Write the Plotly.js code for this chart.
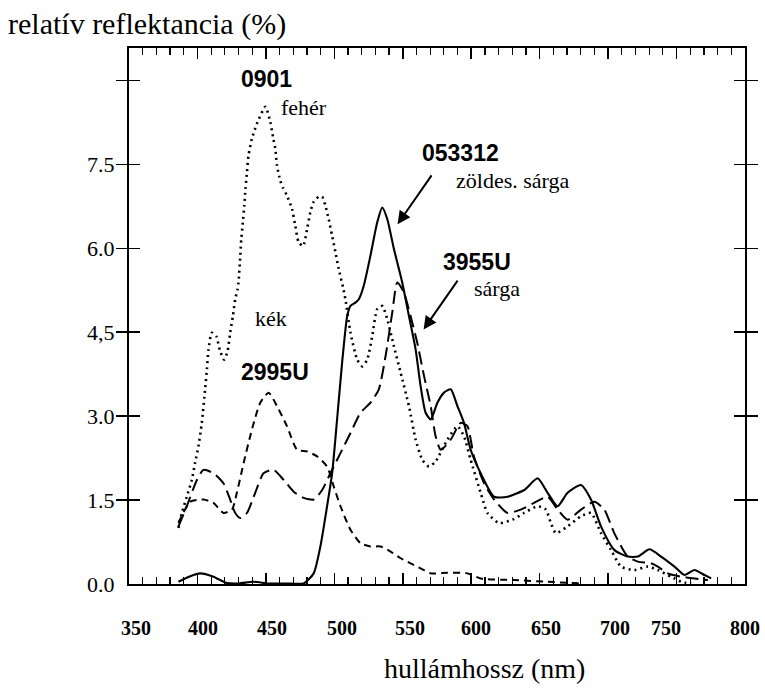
<!DOCTYPE html>
<html><head><meta charset="utf-8">
<script src="https://cdn.plot.ly/plotly-3.0.1.min.js"></script>
<style>html,body{margin:0;padding:0;background:#fff}#chart{width:765px;height:693px}</style>
</head><body><div id="chart"></div>
<script>
// 0901 – fehér (dotted)
const nm0901 = [386.1,388.6,392.2,395.9,398.3,400.7,403.2,405.6,406.9,408.1,410.5,413.7,416.6,419.5,422,423.9,425.9,427.6,429.3,430,431.3,432,433.2,434.2,435.1,436.2,437.3,439.8,443.5,449.6,453.2,455.4,456.9,458.1,460.5,462.5,465.4,469.1,471.5,473.9,477.2,480.1,482.5,484.9,488.6,491.1,493.5,495.9,498.4,500.8,503.2,506.4,508.1,511.8,516.7,520.4,524,527.7,531.3,535,538.7,543.5,548.4,554.5,559.4,564.3,569.1,574,582.6,589.9,594.7,599.6,606.9,611.9,620.4,630.2,638.7,648.5,654.5,658.2,661.9,670.4,680.2,687.5,694.8,702.1,709.4,719.2,729,736.3,746,753.4,760.7];
const val0901 = [1.00,1.27,1.56,1.86,2.17,2.46,2.88,3.48,3.84,4.19,4.49,4.43,4.16,4.01,4.16,4.49,4.79,5.09,5.27,5.39,5.87,6.16,6.47,6.76,7.06,7.37,7.66,7.96,8.23,8.53,8.26,7.96,7.78,7.48,7.21,7.08,6.94,6.70,6.40,6.11,6.04,6.34,6.65,6.83,6.92,6.92,6.76,6.52,6.22,5.93,5.63,5.30,5.09,4.49,4.01,3.89,4.01,4.43,4.91,4.97,4.73,4.25,3.78,3.18,2.58,2.22,2.10,2.19,2.58,2.82,2.64,2.22,1.63,1.27,1.09,1.15,1.27,1.39,1.33,1.09,0.91,1.03,1.21,1.27,0.91,0.61,0.31,0.25,0.31,0.25,0.13,0.04,0.01];

// 053312 – zöldes sárga (solid)
const nm053312 = [386.1,394.7,402,411.7,421,430,440.8,452,465,477.6,484.9,489.8,494.7,498.4,502,505.7,509.4,511.8,515.4,517.9,521.5,526.4,531.3,535,538.7,543.5,549.6,554.5,559.4,563,566.7,570.4,575.3,580.1,585,589.9,594.7,599.6,606.9,616.7,626.5,638.7,648.5,655.8,663.1,670.4,680.2,687.5,694.8,704.5,714.3,721.7,730.2,738.7,748.5,755.8,763.1,770.4,775.3];
const val053312 = [0.04,0.14,0.19,0.13,0.02,0.01,0.04,0.01,0.01,0.01,0.19,0.67,1.39,1.98,2.94,3.96,4.79,4.97,5.03,5.09,5.33,5.87,6.46,6.73,6.52,5.99,5.39,4.79,4.19,3.54,3.06,2.94,3.24,3.42,3.48,3.18,2.88,2.40,1.98,1.56,1.56,1.68,1.89,1.63,1.39,1.63,1.77,1.51,1.03,0.61,0.49,0.49,0.62,0.49,0.31,0.16,0.25,0.16,0.10];

// 3955U – sárga (long dash)
const nm3955U = [386.1,392.2,399.6,404.4,411.7,419,423.9,427.6,431.3,436.2,442.2,448.3,455.6,463,470.3,477.6,484.9,491.1,497.1,504.5,511.8,519.1,526.4,532.5,537.4,542.3,546,550.8,555.7,560.6,565.5,570.4,574,577.7,585,592.3,597.2,602,609.4,616.7,626.5,636.2,646,655.8,663.1,670.4,680.2,689.9,697.2,704.5,714.3,721.7,731.4,736.3,743.6,753.4,763.1,772.9];
const val3955U = [1.03,1.39,1.86,2.04,1.98,1.80,1.51,1.27,1.18,1.27,1.63,1.98,2.04,1.86,1.65,1.54,1.51,1.68,1.98,2.34,2.70,3.06,3.24,3.48,4.07,4.85,5.39,5.21,4.79,4.31,3.72,3.18,2.64,2.40,2.58,2.88,2.82,2.28,1.80,1.51,1.27,1.33,1.45,1.56,1.33,1.15,1.33,1.47,1.33,0.91,0.49,0.40,0.37,0.31,0.19,0.13,0.10,0.07];

// 2995U – kék (short dash)
const nm2995U = [386.1,394.7,404.4,411.7,419,425.2,428.8,433.7,439.8,445.9,452,458.1,465.4,472.8,480.1,487.4,494.7,499.6,504.5,511.8,519.1,526.4,533.7,541.1,548.4,555.7,563,570.4,582.6,597.2,606.9,631.3,655.8,680.2];
const val2995U = [1.09,1.47,1.51,1.45,1.27,1.33,1.63,2.16,2.76,3.24,3.42,3.18,2.82,2.40,2.37,2.28,2.10,1.74,1.39,0.97,0.73,0.67,0.67,0.58,0.46,0.37,0.28,0.19,0.20,0.19,0.10,0.07,0.04,0.01];

const xTickText = ['350','400','450','500','550','600','650','700','750','800'];
const yTickVals = [0,1.5,3,4.5,6,7.5,9];
const yTickText = ['0.0','1.5','3.0','4,5','6.0','7.5',''];

const line = (x,y,dash,w)=>({x:x,y:y,type:'scatter',mode:'lines',line:{color:'#000',width:w,dash:dash,shape:'spline',smoothing:0.6},showlegend:false,hoverinfo:'skip'});
const traces = [
  line(nm0901,val0901,'2px,4px',2.6),
  line(nm2995U,val2995U,'7px,5px',2),
  line(nm3955U,val3955U,'13px,6px',2),
  line(nm053312,val053312,'solid',2.1),
  {x:[],y:[],xaxis:'x2',yaxis:'y',type:'scatter',mode:'lines',showlegend:false,hoverinfo:'skip'}
];

const serif = 'Liberation Serif, Times New Roman, serif';
const sans = 'Liberation Sans, Arial, sans-serif';
const lab = (t,x,y,opt)=>Object.assign({text:t,x:x,y:y,xref:'x',yref:'y',showarrow:false,xanchor:'center',yanchor:'middle'},opt);
const arrow = (x0,y0,x1,y1)=>({x:x1,y:y1,ax:x0,ay:y0,xref:'x',yref:'y',axref:'x',ayref:'y',showarrow:true,arrowhead:2,arrowsize:1.3,arrowwidth:2,arrowcolor:'#000',text:''});

// where the reference prints its wavelength labels along the axis
const labelPos = [355.1,404.1,454.5,505.6,555.3,603.5,654.6,705,742.3,800];

const layout = {
  width:765,height:693,
  margin:{l:129,r:20,t:48,b:109},
  paper_bgcolor:'#fff',plot_bgcolor:'#fff',
  xaxis:{range:[350,800],dtick:50,tick0:350,ticks:'inside',ticklen:11,tickwidth:1.5,showticklabels:false,
    tickcolor:'#000',showline:true,linecolor:'#000',linewidth:2,mirror:'allticks',showgrid:false,zeroline:false,
    minor:{dtick:10,tick0:350,ticks:'inside',ticklen:7,tickwidth:1.2,tickcolor:'#000',showgrid:false}},
  xaxis2:{overlaying:'x',anchor:'y',side:'bottom',range:[350,800],tickvals:labelPos,ticktext:xTickText,ticks:'',
    showline:false,showgrid:false,zeroline:false,
    tickfont:{family:serif,size:20,color:'#000',weight:'bold'},ticklabelstandoff:30},
  yaxis:{range:[0,9.58],tickvals:yTickVals,ticktext:yTickText,ticks:'inside',ticklen:11,tickwidth:1.5,
    tickcolor:'#000',showline:true,linecolor:'#000',linewidth:2,mirror:'allticks',showgrid:false,zeroline:false,
    tickfont:{family:serif,size:22,color:'#000'},ticklabelstandoff:8},
  annotations:[
    {text:'relatív reflektancia (%)',xref:'paper',yref:'paper',x:-0.2,y:1.044,xanchor:'left',yanchor:'middle',showarrow:false,font:{family:serif,size:30,color:'#000'}},
    {text:'hullámhossz (nm)',xref:'paper',yref:'paper',x:0.577,y:-0.158,xanchor:'center',yanchor:'middle',showarrow:false,font:{family:serif,size:28,color:'#000'}},
    lab('0901',450.8,9.03,{font:{family:sans,size:23,color:'#000',weight:'bold'}}),
    lab('fehér',477.8,8.51,{font:{family:serif,size:22,color:'#000'}}),
    lab('053312',591.8,7.70,{font:{family:sans,size:23,color:'#000',weight:'bold'}}),
    lab('zöldes. sárga',630.5,7.22,{font:{family:serif,size:22,color:'#000'}}),
    lab('3955U',604.2,5.76,{font:{family:sans,size:23,color:'#000',weight:'bold'}}),
    lab('sárga',618.8,5.29,{font:{family:serif,size:22,color:'#000'}}),
    lab('kék',453.7,4.75,{font:{family:serif,size:22,color:'#000'}}),
    lab('2995U',456.7,3.79,{font:{family:sans,size:23,color:'#000',weight:'bold'}}),
    arrow(571.8,7.33,546.2,6.43),
    arrow(590.8,5.45,565.2,4.55)
  ]
};
Plotly.newPlot('chart',traces,layout,{staticPlot:true,displayModeBar:false});
</script></body></html>
